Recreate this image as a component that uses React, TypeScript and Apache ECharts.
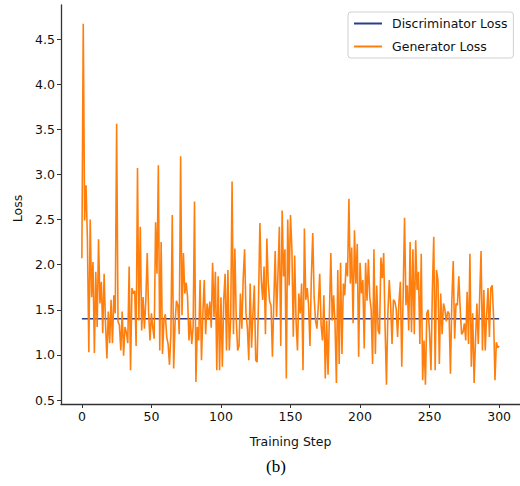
import React, { useEffect, useRef } from "react";
import * as echarts from "echarts";

const generatorLoss: number[] = [
  2.07, 4.67, 2.49, 2.88, 2.27, 1.03, 2.50, 1.64, 2.03, 1.02,
  1.92, 1.31, 2.28, 1.57, 1.81, 1.24, 1.90, 1.35, 0.96, 1.48,
  1.13, 1.61, 1.13, 1.66, 1.46, 3.56, 1.37, 1.33, 1.05, 1.48,
  0.99, 1.31, 1.25, 1.13, 1.98, 0.83, 1.74, 1.68, 1.71, 1.10,
  3.07, 1.38, 2.42, 1.27, 1.64, 1.29, 1.61, 2.13, 1.46, 1.16,
  1.46, 1.30, 1.18, 2.47, 1.90, 3.10, 1.05, 2.25, 1.01, 1.38,
  1.45, 1.20, 1.12, 0.89, 1.23, 2.55, 0.85, 1.35, 1.60, 1.55,
  1.23, 3.20, 1.44, 2.13, 1.68, 1.80, 1.64, 1.16, 1.40, 1.12,
  1.31, 2.70, 0.70, 1.31, 1.16, 1.83, 0.94, 1.46, 1.83, 1.23,
  1.57, 1.40, 1.59, 1.30, 2.02, 1.42, 1.92, 0.83, 1.87, 0.83,
  1.64, 0.87, 1.61, 1.90, 1.05, 1.94, 1.05, 1.40, 2.92, 1.23,
  2.18, 1.40, 1.05, 1.10, 1.68, 1.29, 1.85, 2.17, 1.46, 1.30,
  0.94, 1.79, 1.08, 1.46, 1.77, 0.94, 0.92, 1.60, 2.46, 1.83,
  1.61, 1.98, 1.23, 2.29, 1.80, 1.59, 1.55, 0.98, 1.59, 2.15,
  1.42, 1.90, 2.42, 1.10, 2.60, 1.87, 2.17, 0.74, 2.50, 1.77,
  2.55, 2.17, 1.20, 2.10, 1.38, 1.05, 1.68, 1.46, 1.79, 0.83,
  2.40, 1.61, 1.74, 1.55, 1.10, 1.87, 2.35, 1.64, 1.38, 1.29,
  1.55, 1.90, 1.33, 1.16, 1.66, 0.74, 1.38, 0.78, 1.46, 2.13,
  1.38, 1.66, 1.35, 0.69, 1.94, 0.90, 2.02, 1.01, 1.79, 1.66,
  2.02, 1.87, 2.73, 1.79, 2.19, 1.35, 2.38, 1.79, 2.23, 0.98,
  2.02, 1.68, 1.83, 1.07, 2.02, 1.60, 2.06, 1.64, 1.50, 0.90,
  2.17, 1.01, 1.77, 1.27, 1.23, 2.08, 1.85, 2.13, 1.31, 0.67,
  1.46, 1.83, 1.55, 1.12, 1.61, 1.59, 1.51, 1.20, 1.59, 1.81,
  0.87, 1.68, 2.52, 1.55, 1.77, 1.27, 2.25, 1.25, 2.17, 1.23,
  2.27, 1.72, 1.92, 1.12, 2.12, 0.72, 1.16, 0.67, 1.46, 1.50,
  1.23, 0.83, 1.72, 2.31, 0.83, 1.94, 1.83, 0.90, 1.68, 1.23,
  1.57, 1.50, 1.37, 1.48, 1.46, 0.79, 1.61, 2.04, 1.18, 1.57,
  1.55, 1.87, 1.51, 1.23, 1.25, 1.35, 1.16, 1.70, 1.12, 2.12,
  0.87, 1.46, 0.69, 1.16, 1.57, 1.12, 1.64, 2.15, 1.05, 1.72,
  1.05, 1.44, 1.74, 1.20, 1.74, 1.77, 1.42, 0.72, 1.14, 1.08,
  1.10,
];

const discriminatorLossValue = 1.4;

const xTickValues = [0, 50, 100, 150, 200, 250, 300];
const yTickValues = [0.5, 1.0, 1.5, 2.0, 2.5, 3.0, 3.5, 4.0, 4.5];

const seriesNames = ["Discriminator Loss", "Generator Loss"];
const axisNames = { x: "Training Step", y: "Loss" };
const caption = "(b)";

export default function App() {
  const ref = useRef<HTMLDivElement>(null);

  useEffect(() => {
    if (!ref.current) return;
    const chart = echarts.init(ref.current, undefined, { renderer: "svg" });
    const steps = generatorLoss.map((_, i) => i);
    const genData = steps.map((s) => [s, generatorLoss[s]]);
    const discData = steps.map((s) => [s, discriminatorLossValue]);

    const font = "DejaVu Sans";
    const axisColor = "#333";

    chart.setOption({
      animation: false,
      backgroundColor: "#fff",
      grid: { left: 61, top: 5, width: 461, height: 399, containLabel: false },
      legend: {
        show: true,
        orient: "vertical",
        left: 348,
        top: 12,
        padding: [5, 6, 5, 5],
        itemGap: 10,
        itemWidth: 28,
        itemHeight: 14,
        itemStyle: { opacity: 0 },
        backgroundColor: "#fff",
        borderColor: "#d0d0d0",
        borderWidth: 1,
        borderRadius: 3,
        textStyle: {
          fontFamily: font,
          fontSize: 12.5,
          color: "#111",
          padding: [0, 0, 0, 5],
        },
        data: seriesNames,
      },
      xAxis: {
        type: "value",
        min: -15,
        max: 315,
        name: axisNames.x,
        nameLocation: "middle",
        nameGap: 31,
        nameTextStyle: { fontFamily: font, fontSize: 12.5, color: "#111" },
        splitLine: { show: false },
        axisLine: { show: true, onZero: false, lineStyle: { color: axisColor, width: 1.3 } },
        axisTick: {
          show: true,
          length: 4,
          inside: false,
          customValues: xTickValues,
          lineStyle: { color: axisColor, width: 1 },
        },
        axisLabel: {
          customValues: xTickValues,
          fontFamily: font,
          fontSize: 12.5,
          color: "#111",
          margin: 6,
          formatter: (v: number) => String(v),
        },
      },
      yAxis: {
        type: "value",
        min: 0.456,
        max: 4.877,
        name: axisNames.y,
        nameLocation: "middle",
        nameGap: 33,
        nameRotate: 90,
        nameTextStyle: { fontFamily: font, fontSize: 12.5, color: "#111", padding: [0, 8, 0, 0] },
        splitLine: { show: false },
        axisLine: { show: true, onZero: false, lineStyle: { color: axisColor, width: 1.3 } },
        axisTick: {
          show: true,
          length: 4,
          inside: false,
          customValues: yTickValues,
          lineStyle: { color: axisColor, width: 1 },
        },
        axisLabel: {
          customValues: yTickValues,
          fontFamily: font,
          fontSize: 12.5,
          color: "#111",
          margin: 6,
          formatter: (v: number) => v.toFixed(1),
        },
      },
      series: [
        {
          name: seriesNames[0],
          type: "line",
          data: discData,
          symbol: "none",
          showSymbol: false,
          lineStyle: { color: "#2b3f86", width: 1.6 },
          itemStyle: { color: "#2b3f86" },
          z: 2,
        },
        {
          name: seriesNames[1],
          type: "line",
          data: genData,
          symbol: "none",
          showSymbol: false,
          lineStyle: { color: "#ff7f0e", width: 1.6 },
          itemStyle: { color: "#ff7f0e" },
          z: 3,
        },
      ],
      graphic: [
        {
          type: "text",
          x: 276,
          y: 466,
          style: {
            text: caption,
            fontFamily: "Liberation Serif",
            fontSize: 17,
            fill: "#000",
            textAlign: "center",
            textVerticalAlign: "middle",
          },
        },
      ],
    });

    return () => {
      chart.dispose();
    };
  }, []);

  return (
    <div
      ref={ref}
      style={{ position: "fixed", left: 0, top: 0, width: 520, height: 486, background: "#fff" }}
    />
  );
}
